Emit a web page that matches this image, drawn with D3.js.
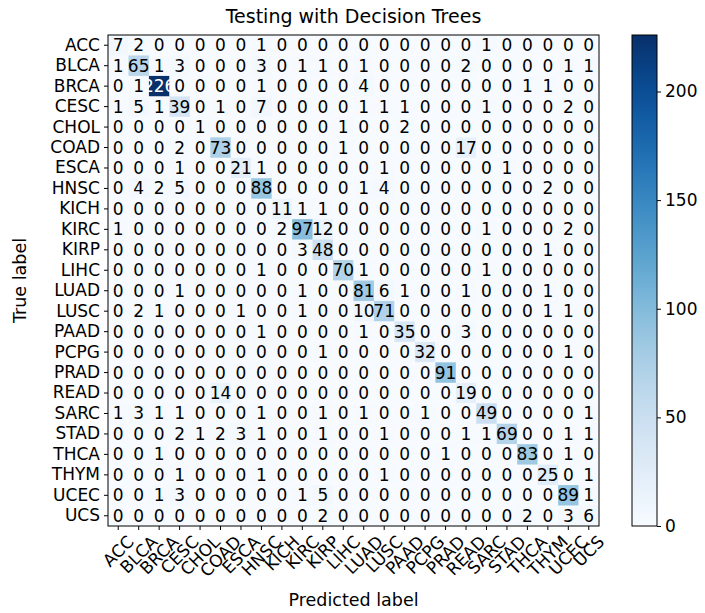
<!DOCTYPE html>
<html>
<head>
<meta charset="utf-8">
<script src="https://cdn.jsdelivr.net/npm/d3@7"></script>
<style>
  body { margin: 0; background: #fff; }
  svg text { font-family: "DejaVu Sans", sans-serif; }
</style>
</head>
<body>
<svg id="chart" width="705" height="613"></svg>
<script>
// Class labels (rows = true label, columns = predicted label)
const classes = ["ACC","BLCA","BRCA","CESC","CHOL","COAD","ESCA","HNSC","KICH","KIRC","KIRP","LIHC",
                 "LUAD","LUSC","PAAD","PCPG","PRAD","READ","SARC","STAD","THCA","THYM","UCEC","UCS"];

// Confusion matrix counts, one row per true class
const counts = [
  [7,2,0,0,0,0,0,1,0,0,0,0,0,0,0,0,0,0,1,0,0,0,0,0],
  [1,65,1,3,0,0,0,3,0,1,1,0,1,0,0,0,0,2,0,0,0,0,1,1],
  [0,1,226,0,0,0,0,1,0,0,0,0,4,0,0,0,0,0,0,0,1,1,0,0],
  [1,5,1,39,0,1,0,7,0,0,0,0,1,1,1,0,0,0,1,0,0,0,2,0],
  [0,0,0,0,1,0,0,0,0,0,0,1,0,0,2,0,0,0,0,0,0,0,0,0],
  [0,0,0,2,0,73,0,0,0,0,0,1,0,0,0,0,0,17,0,0,0,0,0,0],
  [0,0,0,1,0,0,21,1,0,0,0,0,0,1,0,0,0,0,0,1,0,0,0,0],
  [0,4,2,5,0,0,0,88,0,0,0,0,1,4,0,0,0,0,0,0,0,2,0,0],
  [0,0,0,0,0,0,0,0,11,1,1,0,0,0,0,0,0,0,0,0,0,0,0,0],
  [1,0,0,0,0,0,0,0,2,97,12,0,0,0,0,0,0,0,1,0,0,0,2,0],
  [0,0,0,0,0,0,0,0,0,3,48,0,0,0,0,0,0,0,0,0,0,1,0,0],
  [0,0,0,0,0,0,0,1,0,0,0,70,1,0,0,0,0,0,1,0,0,0,0,0],
  [0,0,0,1,0,0,0,0,0,1,0,0,81,6,1,0,0,1,0,0,0,1,0,0],
  [0,2,1,0,0,0,1,0,0,1,0,0,10,71,0,0,0,0,0,0,0,1,1,0],
  [0,0,0,0,0,0,0,1,0,0,0,0,1,0,35,0,0,3,0,0,0,0,0,0],
  [0,0,0,0,0,0,0,0,0,0,1,0,0,0,0,32,0,0,0,0,0,0,1,0],
  [0,0,0,0,0,0,0,0,0,0,0,0,0,0,0,0,91,0,0,0,0,0,0,0],
  [0,0,0,0,0,14,0,0,0,0,0,0,0,0,0,0,0,19,0,0,0,0,0,0],
  [1,3,1,1,0,0,0,1,0,0,1,0,1,0,0,1,0,0,49,0,0,0,0,1],
  [0,0,0,2,1,2,3,1,0,0,1,0,0,1,0,0,0,1,1,69,0,0,1,1],
  [0,0,1,0,0,0,0,0,0,0,0,0,0,0,0,0,1,0,0,0,83,0,1,0],
  [0,0,0,1,0,0,0,1,0,0,0,0,0,1,0,0,0,0,0,0,0,25,0,1],
  [0,0,1,3,0,0,0,0,0,1,5,0,0,0,0,0,0,0,0,0,0,0,89,1],
  [0,0,0,0,0,0,0,0,0,0,2,0,0,0,0,0,0,0,0,0,2,0,3,6]
];

const colorbarTicks = [0, 50, 100, 150, 200];
const chartTitle = "Testing with Decision Trees";
const xTitle = "Predicted label";
const yTitle = "True label";

const svg = d3.select("#chart");
const plot = { left: 108, top: 35, size: 491 };
const cellFont = 17;
const tickFont = 17;
const labelFont = 17.5;
const titleFont = 19;

const x = d3.scaleBand().domain(classes).range([plot.left, plot.left + plot.size]);
const y = d3.scaleBand().domain(classes).range([plot.top, plot.top + plot.size]);
const vmax = d3.max(counts.flat());
const color = d3.scaleSequential(d3.interpolateBlues).domain([0, vmax]);
const thresh = vmax / 2;

// heatmap cells
const cells = counts.flatMap((row, i) => row.map((v, j) => ({ t: classes[i], p: classes[j], v })));
svg.append("g").selectAll("rect").data(cells).join("rect")
  .attr("x", d => x(d.p)).attr("y", d => y(d.t))
  .attr("width", x.bandwidth() + 0.3).attr("height", y.bandwidth() + 0.3)
  .attr("fill", d => color(d.v));

// cell counts
svg.append("g").selectAll("text").data(cells).join("text")
  .attr("x", d => x(d.p) + x.bandwidth() / 2)
  .attr("y", d => y(d.t) + y.bandwidth() / 2)
  .attr("text-anchor", "middle").attr("dominant-baseline", "central")
  .attr("font-size", cellFont)
  .attr("fill", d => d.v > thresh ? "#fff" : "#000")
  .text(d => d.v);

// frame
svg.append("rect").attr("x", plot.left).attr("y", plot.top)
  .attr("width", plot.size).attr("height", plot.size)
  .attr("fill", "none").attr("stroke", "#000").attr("stroke-width", 1);

// y axis
const yAxis = svg.append("g").attr("transform", `translate(${plot.left},0)`)
  .call(d3.axisLeft(y).tickSize(4).tickPadding(4));
yAxis.select(".domain").remove();
yAxis.selectAll("text").attr("font-size", tickFont).attr("fill", "#000").style("font-family", "DejaVu Sans");
yAxis.selectAll("line").attr("stroke", "#000");

// x axis with labels rotated 45°, box centred under each tick
const xAxis = svg.append("g").attr("transform", `translate(0,${plot.top + plot.size})`)
  .call(d3.axisBottom(x).tickSize(4).tickFormat(""));
xAxis.select(".domain").remove();
xAxis.selectAll("line").attr("stroke", "#000");
const labelTop = plot.top + plot.size + 7;
svg.append("g").selectAll("text").data(classes).join("text")
  .attr("font-size", tickFont).attr("fill", "#000")
  .attr("text-anchor", "middle").attr("dominant-baseline", "central")
  .text(d => d)
  .each(function(d) {
    const w = this.getComputedTextLength();
    const h = tickFont * 0.95;
    const off = (w + h) / (2 * Math.SQRT2);
    const cx = x(d) + x.bandwidth() / 2;
    const cy = labelTop + off;
    d3.select(this).attr("transform", `translate(${cx},${cy}) rotate(-45)`);
  });

// titles
svg.append("text").attr("x", plot.left + plot.size / 2).attr("y", 23)
  .attr("text-anchor", "middle").attr("font-size", titleFont).text(chartTitle);
svg.append("text").attr("x", plot.left + plot.size / 2).attr("y", 606)
  .attr("text-anchor", "middle").attr("font-size", labelFont).text(xTitle);
svg.append("text").attr("transform", `translate(26,${plot.top + plot.size / 2}) rotate(-90)`)
  .attr("text-anchor", "middle").attr("font-size", labelFont).text(yTitle);

// colour bar
const cb = { x: 632, w: 25 };
const cbScale = d3.scaleLinear().domain([0, vmax]).range([plot.top + plot.size, plot.top]);
const grad = svg.append("defs").append("linearGradient").attr("id", "cbgrad")
  .attr("x1", 0).attr("y1", 1).attr("x2", 0).attr("y2", 0);
d3.range(0, 1.0001, 0.05).forEach(t => {
  grad.append("stop").attr("offset", t).attr("stop-color", color(t * vmax));
});
svg.append("rect").attr("x", cb.x).attr("y", plot.top).attr("width", cb.w).attr("height", plot.size)
  .attr("fill", "url(#cbgrad)").attr("stroke", "#000").attr("stroke-width", 1);
const cbAxis = svg.append("g").attr("transform", `translate(${cb.x + cb.w},0)`)
  .call(d3.axisRight(cbScale).tickValues(colorbarTicks).tickSize(4).tickPadding(4));
cbAxis.select(".domain").remove();
cbAxis.selectAll("text").attr("font-size", tickFont).attr("fill", "#000").style("font-family", "DejaVu Sans");
cbAxis.selectAll("line").attr("stroke", "#000");
</script>
</body>
</html>
